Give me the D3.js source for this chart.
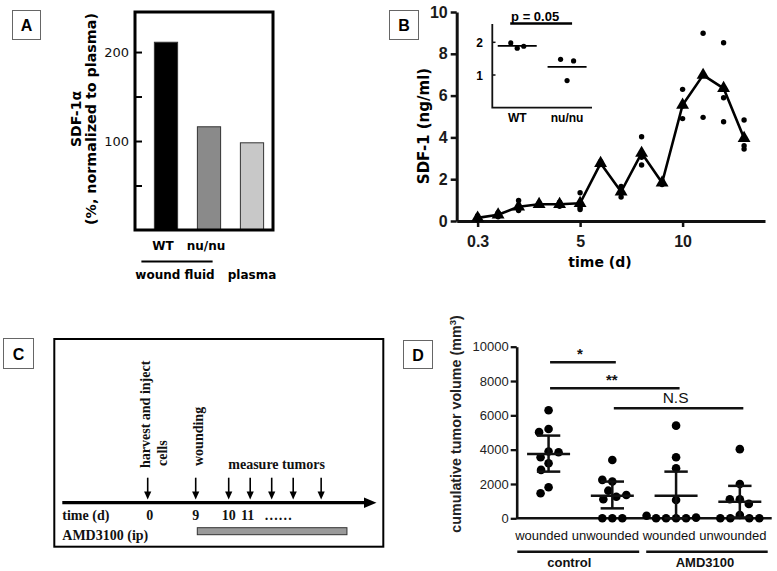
<!DOCTYPE html>
<html><head><meta charset="utf-8">
<script src="https://cdn.jsdelivr.net/npm/d3@7"></script>
<style>body{margin:0;background:#fff}svg{display:block}</style>
</head><body>
<svg id="fig" width="777" height="571"></svg>
<script>
// ---------- Panel A data ----------
const aCategories = ["WT", "nu/nu", "plasma"];
const aValues = [211, 116, 98];
const aColors = ["#000000", "#8a8a8a", "#c8c8c8"];
const aTicks = [50, 100, 150, 200];
const aTickLabels = [100, 200];

// ---------- Panel B data ----------
const bTimes = ["0.3","1","2","3","4","5","6","7","8","9","10","11","12","13"];
const bMeans = [0.15, 0.3, 0.68, 0.8, 0.8, 0.85, 2.76, 1.4, 3.25, 1.83, 5.55, 6.98, 6.35, 3.96];
const bReplicates = [
  [0.05,0.15,0.25],[0.2,0.3,0.4],[0.5,0.55,0.98],[0.75,0.8,0.85],[0.7,0.8,0.9],
  [0.55,0.65,1.35],[2.7,2.75,2.85],[1.15,1.4,1.65],[2.68,3.05,4.03],[1.75,1.85,1.9],
  [4.9,5.5,6.3],[4.96,6.98,8.98],[4.75,5.9,8.53],[3.44,3.6,4.83]
];
const bXTicks = ["0.3","5","10"];
const bYTicks = [0,2,4,6,8,10];
const insetGroups = ["WT","nu/nu"];
const insetValues = [[1.98,1.82,1.88],[1.48,0.83,1.43]];
const insetMeans = [1.89, 1.25];
const insetTicks = [1, 2];
const insetP = "p = 0.05";

// ---------- Panel C data ----------
const cEvents = [
  {day: 0, lines: ["harvest and inject", "cells"]},
  {day: 9, lines: ["wounding"]}
];
const cMeasureDays = [10, 11, 12, 13, 14.3];
const cDayLabels = [0, 9, 10, 11];
const cTreatment = [9, 15.5];

// ---------- Panel D data ----------
const dGroups = ["control wounded","control unwounded","AMD3100 wounded","AMD3100 unwounded"];
const dLabels = ["wounded","unwounded","wounded","unwounded"];
const dValues = [
  [6300,5200,5020,3890,3560,3850,3210,2820,1810,1460],
  [3400,2140,2240,1610,1260,1110,1360,0,0,0],
  [5400,3560,2920,1070,0,0,0,0,40,150],
  [4030,2000,1110,1110,840,190,0,0,0,0]
];
const dMeans = [3750, 1320, 1320, 970];
const dUpper = [4820, 2140, 2720, 1890];
const dLower = [2720, 580, 0, 50];
const dYTicks = [0,2000,4000,6000,8000,10000];
const dSig = [
  {from:0, to:1, level:9100, label:"*"},
  {from:0, to:2, level:7580, label:"**"},
  {from:1, to:3, level:6410, label:"N.S"}
];
const dTreatments = ["control","AMD3100"];

// =====================================================
const svg = d3.select("#fig");
const SANS = "'Liberation Sans', Arial, sans-serif";
const DEJA = "'DejaVu Sans', Verdana, sans-serif";
const SERIF = "'Liberation Serif', 'Times New Roman', serif";

function panelLabel(x, y, w, h, t) {
  svg.append("rect").attr("x", x + .5).attr("y", y + .5).attr("width", w).attr("height", h)
    .attr("fill", "#fff").attr("stroke", "#666").attr("stroke-width", 1);
  svg.append("text").attr("x", x + w / 2 + .5).attr("y", y + h / 2 + 6.5)
    .attr("text-anchor", "middle").attr("font-family", SANS).attr("font-weight", "bold")
    .attr("font-size", 16).text(t);
}
panelLabel(12, 10, 28, 29, "A");
panelLabel(389, 10, 29, 29, "B");
panelLabel(3, 338, 30, 30, "C");
panelLabel(403, 340, 29, 28, "D");

// ---------------- Panel A ----------------
(function () {
  const L = 135, R = 273, T = 12, B = 230;
  const x = d3.scaleBand().domain(aCategories).range([144.5, 273.5]).paddingInner(0.46).paddingOuter(0.23);
  const y = d3.scaleLinear().domain([0, 245]).range([B, T]);
  const g = svg.append("g");
  g.selectAll("rect.bar").data(aCategories).join("rect").attr("class", "bar")
    .attr("x", d => x(d)).attr("width", x.bandwidth())
    .attr("y", (d, i) => y(aValues[i])).attr("height", (d, i) => B - y(aValues[i]))
    .attr("fill", (d, i) => aColors[i]).attr("stroke", "#333").attr("stroke-width", 1);
  const ax = g.append("g").attr("transform", `translate(${L},0)`)
    .call(d3.axisLeft(y).tickValues(aTicks).tickSize(-7).tickSizeOuter(0).tickPadding(6)
      .tickFormat(d => aTickLabels.includes(d) ? d : ""));
  ax.select(".domain").remove();
  ax.selectAll(".tick line").attr("stroke", "#000").attr("stroke-width", 2);
  ax.selectAll(".tick text").attr("font-family", DEJA).attr("font-size", 13).attr("fill", "#111");
  g.append("rect").attr("x", L).attr("y", T).attr("width", R - L).attr("height", B - T)
    .attr("fill", "none").attr("stroke", "#000").attr("stroke-width", 3);
  ["WT", "nu/nu"].forEach(c => {
    g.append("text").attr("x", x(c) + x.bandwidth() / 2 - 3).attr("y", 250)
      .attr("text-anchor", "middle").attr("font-family", DEJA).attr("font-weight", "bold")
      .attr("font-size", 12).text(c);
  });
  g.append("line").attr("x1", x("WT") - 13).attr("x2", x("nu/nu") + x.bandwidth() - 8)
    .attr("y1", 261.5).attr("y2", 261.5).attr("stroke", "#000").attr("stroke-width", 2);
  g.append("text").attr("x", (x("WT") - 13 + x("nu/nu") + x.bandwidth() - 8) / 2 - 2).attr("y", 279)
    .attr("text-anchor", "middle").attr("font-family", DEJA).attr("font-weight", "bold")
    .attr("font-size", 12).text("wound fluid");
  g.append("text").attr("x", x("plasma") + x.bandwidth() / 2).attr("y", 279)
    .attr("text-anchor", "middle").attr("font-family", DEJA).attr("font-weight", "bold")
    .attr("font-size", 12).text("plasma");
  g.append("text").attr("transform", "translate(81,119) rotate(-90)").attr("text-anchor", "middle")
    .attr("font-family", DEJA).attr("font-weight", "bold").attr("font-size", 14).text("SDF-1α");
  g.append("text").attr("transform", "translate(95.5,119) rotate(-90)").attr("text-anchor", "middle")
    .attr("font-family", DEJA).attr("font-weight", "bold").attr("font-size", 14.3)
    .text("(%, normalized to plasma)");
})();

// ---------------- Panel B ----------------
(function () {
  const x = d3.scalePoint().domain(bTimes).range([456.7, 765]).padding(1.02);
  const y = d3.scaleLinear().domain([0, 10]).range([221, 12]);
  const g = svg.append("g");
  const ay = g.append("g").attr("transform", "translate(456.7,0)")
    .call(d3.axisLeft(y).tickValues(bYTicks).tickSize(6).tickSizeOuter(0).tickPadding(3));
  const axb = g.append("g").attr("transform", "translate(0,221)")
    .call(d3.axisBottom(x).tickValues(bXTicks).tickSize(6).tickSizeOuter(0).tickPadding(8.5));
  [ay, axb].forEach(a => {
    a.select(".domain").attr("stroke", "#111").attr("stroke-width", 3);
    a.selectAll(".tick line").attr("stroke", "#111").attr("stroke-width", 2.5);
    a.selectAll(".tick text").attr("font-family", SANS).attr("font-weight", "bold")
      .attr("font-size", 16).attr("fill", "#1a1a1a");
  });
  g.append("text").attr("transform", "translate(429,126) rotate(-90)").attr("text-anchor", "middle")
    .attr("font-family", DEJA).attr("font-weight", "bold").attr("font-size", 15).text("SDF-1 (ng/ml)");
  g.append("text").attr("x", 600).attr("y", 267).attr("text-anchor", "middle")
    .attr("font-family", DEJA).attr("font-weight", "bold").attr("font-size", 14).text("time (d)");
  bTimes.forEach((t, i) => {
    g.selectAll(null).data(bReplicates[i]).join("circle")
      .attr("cx", x(t)).attr("cy", d => y(d)).attr("r", 2.7).attr("fill", "#000");
  });
  const line = d3.line().x((d, i) => x(bTimes[i])).y(d => y(d));
  g.append("path").datum(bMeans).attr("d", line).attr("fill", "none")
    .attr("stroke", "#000").attr("stroke-width", 2.6).attr("stroke-linejoin", "round");
  g.selectAll("path.tri").data(bMeans).join("path").attr("class", "tri")
    .attr("d", d3.symbol(d3.symbolTriangle, 72))
    .attr("transform", (d, i) => `translate(${x(bTimes[i])},${y(d)})`).attr("fill", "#000");

  // inset
  const xi = d3.scaleBand().domain(insetGroups).range([492.3, 592]);
  const yi = d3.scaleLinear().domain([0, 2.56]).range([107.7, 24]);
  const c = gname => xi(gname) + xi.bandwidth() / 2;
  g.append("path").attr("d", `M492.3,24V107.7H592`).attr("fill", "none")
    .attr("stroke", "#111").attr("stroke-width", 1.8);
  insetTicks.forEach(t => {
    g.append("line").attr("x1", 492.3).attr("x2", 495.5).attr("y1", yi(t)).attr("y2", yi(t))
      .attr("stroke", "#111").attr("stroke-width", 1.5);
    g.append("text").attr("x", 483).attr("y", yi(t) + 4.5).attr("text-anchor", "end")
      .attr("font-family", SANS).attr("font-weight", "bold").attr("font-size", 12).text(t);
  });
  insetGroups.forEach((gn, gi) => {
    g.selectAll(null).data(insetValues[gi]).join("circle")
      .attr("cx", (d, i) => c(gn) + (i - 1) * 6.5).attr("cy", d => yi(d))
      .attr("r", 2.6).attr("fill", "#000");
    g.append("line").attr("x1", c(gn) - 19.5).attr("x2", c(gn) + 19.5)
      .attr("y1", yi(insetMeans[gi])).attr("y2", yi(insetMeans[gi]))
      .attr("stroke", "#000").attr("stroke-width", 1.6);
    g.append("text").attr("x", c(gn)).attr("y", 121.5).attr("text-anchor", "middle")
      .attr("font-family", SANS).attr("font-weight", "bold").attr("font-size", 12).text(gn);
  });
  g.append("line").attr("x1", c("WT") - 7).attr("x2", c("nu/nu") + 5).attr("y1", 23.5).attr("y2", 23.5)
    .attr("stroke", "#000").attr("stroke-width", 2.5);
  g.append("text").attr("x", (c("WT") + c("nu/nu")) / 2 - 7).attr("y", 20.5).attr("text-anchor", "middle")
    .attr("font-family", SANS).attr("font-weight", "bold").attr("font-size", 13).text(insetP);
})();

// ---------------- Panel C ----------------
(function () {
  const g = svg.append("g");
  const xc = d3.scaleLinear().domain([0, 9, 10, 14]).range([147.7, 195.7, 228.7, 314.7]);
  g.append("rect").attr("x", 54.3).attr("y", 339).attr("width", 329).attr("height", 207.7)
    .attr("fill", "none").attr("stroke", "#000").attr("stroke-width", 2);
  const axisY = 502.7;
  g.append("line").attr("x1", 62.3).attr("x2", 366).attr("y1", axisY).attr("y2", axisY)
    .attr("stroke", "#000").attr("stroke-width", 3.2);
  g.append("path").attr("d", `M364,${axisY - 5.3}L376.5,${axisY}L364,${axisY + 5.3}Z`).attr("fill", "#000");
  function downArrow(xx) {
    g.append("line").attr("x1", xx).attr("x2", xx).attr("y1", 477.7).attr("y2", 493)
      .attr("stroke", "#000").attr("stroke-width", 1.6);
    g.append("path").attr("d", `M${xx - 3.6},491.5L${xx + 3.6},491.5L${xx},499.5Z`).attr("fill", "#000");
  }
  cEvents.forEach(e => downArrow(xc(e.day)));
  cMeasureDays.forEach(d => downArrow(xc(d)));
  const tx = (sel) => sel.attr("font-family", SERIF).attr("font-weight", "bold").attr("font-size", 14).attr("fill", "#111");
  g.append("text").attr("transform", `translate(${xc(0) + 1.8},468) rotate(-90)`).call(tx).text(cEvents[0].lines[0]);
  g.append("text").attr("transform", `translate(${xc(0) + 18.8},466) rotate(-90)`).call(tx).text(cEvents[0].lines[1]);
  g.append("text").attr("transform", `translate(${xc(9) + 7.5},466) rotate(-90)`).call(tx).text(cEvents[1].lines[0]);
  g.append("text").attr("x", xc(10) - 0.4).attr("y", 469).call(tx).text("measure tumors");
  g.append("text").attr("x", 62.3).attr("y", 520).call(tx).text("time (d)");
  cDayLabels.forEach(d => {
    g.append("text").attr("x", xc(d) + (d === 0 ? 2 : d === 11 ? -2.5 : 0)).attr("y", 520)
      .attr("text-anchor", "middle").call(tx).text(d);
  });
  g.append("text").attr("x", xc(11) + 14).attr("y", 520).call(tx).text("……");
  g.append("text").attr("x", 62.3).attr("y", 539.5).call(tx).text("AMD3100 (ip)");
  g.append("rect").attr("x", xc(cTreatment[0]) + 1.6).attr("y", 527.7)
    .attr("width", xc(cTreatment[1]) - xc(cTreatment[0]) - 1.6).attr("height", 7)
    .attr("fill", "#9a9a9a").attr("stroke", "#333").attr("stroke-width", 1);
})();

// ---------------- Panel D ----------------
(function () {
  const g = svg.append("g");
  const x = d3.scaleBand().domain(dGroups).range([516.7, 771.7]);
  const y = d3.scaleLinear().domain([0, 10000]).range([518.3, 346.7]);
  const cx = i => x(dGroups[i]) + x.bandwidth() / 2;
  const ay = g.append("g").attr("transform", "translate(516.7,0)")
    .call(d3.axisLeft(y).tickValues(dYTicks).tickSize(6).tickSizeOuter(0).tickPadding(2).tickFormat(d3.format("d")));
  ay.select(".domain").attr("stroke", "#111").attr("stroke-width", 2.6);
  ay.selectAll(".tick line").attr("stroke", "#111").attr("stroke-width", 2.3);
  ay.selectAll(".tick text").attr("font-family", SANS).attr("font-size", 13).attr("fill", "#222");
  g.append("line").attr("x1", 516.7).attr("x2", 771.7).attr("y1", y(0)).attr("y2", y(0))
    .attr("stroke", "#111").attr("stroke-width", 2.6);
  const yl = g.append("text").attr("transform", "translate(461,424) rotate(-90)").attr("text-anchor", "middle")
    .attr("font-family", SANS).attr("font-weight", "bold").attr("font-size", 14.3).attr("fill", "#222");
  yl.append("tspan").text("cumulative tumor volume (mm");
  yl.append("tspan").attr("dy", -5).attr("font-size", 9.5).text("3");
  yl.append("tspan").attr("dy", 5).text(")");

  const r = 4.3;
  function swarm(vals) {
    const placed = [];
    return vals.map(v => {
      const yy = y(v);
      for (let k = 0; k < 400; k++) {
        const off = (k % 2 === 0 ? 1 : -1) * Math.ceil(k / 2) * 0.5;
        if (placed.every(p => Math.hypot(p.dx - off, p.y - yy) >= 2 * r + 1.2)) {
          placed.push({dx: off, y: yy});
          return {dx: off, y: yy};
        }
      }
      return {dx: 0, y: yy};
    });
  }
  dGroups.forEach((gn, gi) => {
    const pts = swarm(dValues[gi]);
    g.selectAll(null).data(pts).join("circle")
      .attr("cx", d => cx(gi) + d.dx).attr("cy", d => d.y).attr("r", r).attr("fill", "#000");
    const c = cx(gi);
    const st = s => s.attr("stroke", "#111").attr("stroke-width", 2.5);
    g.append("line").attr("x1", c).attr("x2", c).attr("y1", y(dLower[gi])).attr("y2", y(dUpper[gi])).call(st);
    g.append("line").attr("x1", c - 21.5).attr("x2", c + 21.5).attr("y1", y(dMeans[gi])).attr("y2", y(dMeans[gi])).call(st);
    [dUpper[gi], dLower[gi]].forEach(v =>
      g.append("line").attr("x1", c - 11.7).attr("x2", c + 11.7).attr("y1", y(v)).attr("y2", y(v)).call(st));
    g.append("text").attr("x", c - 7).attr("y", 539.5).attr("text-anchor", "middle")
      .attr("font-family", SANS).attr("font-size", 13).attr("fill", "#111").text(dLabels[gi]);
  });
  dSig.forEach(s => {
    const x1 = cx(s.from) + 1.5, x2 = cx(s.to) + 3.5;
    g.append("line").attr("x1", x1).attr("x2", x2).attr("y1", y(s.level)).attr("y2", y(s.level))
      .attr("stroke", "#111").attr("stroke-width", 2.5);
    const isStar = s.label !== "N.S";
    g.append("text").attr("x", (x1 + x2) / 2 - 3).attr("y", y(s.level) - (isStar ? 3 : 5))
      .attr("text-anchor", "middle").attr("font-family", SANS)
      .attr("font-weight", isStar ? "bold" : "normal").attr("font-size", isStar ? 15 : 15.5)
      .attr("fill", "#111").text(s.label);
  });
  dTreatments.forEach((t, ti) => {
    const x1 = x(dGroups[ti * 2]) + (ti === 0 ? 0.6 : 2), x2 = x(dGroups[ti * 2 + 1]) + x.bandwidth() - (ti === 0 ? 5 : 4);
    g.append("line").attr("x1", x1).attr("x2", x2).attr("y1", 551.7).attr("y2", 551.7)
      .attr("stroke", "#111").attr("stroke-width", 2.5);
    g.append("text").attr("x", (x1 + x2) / 2 - (ti === 0 ? 9 : 2)).attr("y", 567)
      .attr("text-anchor", "middle").attr("font-family", SANS).attr("font-weight", "bold")
      .attr("font-size", 13).attr("fill", "#111").text(t);
  });
})();
</script>
</body></html>
